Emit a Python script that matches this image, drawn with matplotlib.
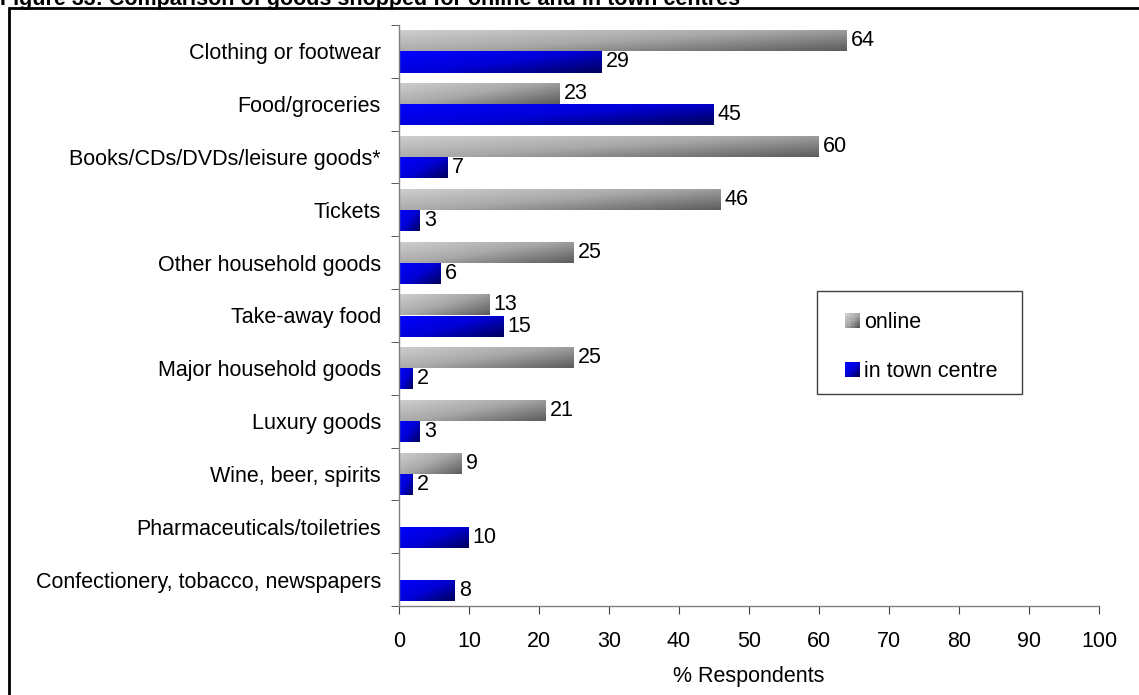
import numpy as np
import matplotlib
matplotlib.use("Agg")
import matplotlib.pyplot as plt
from matplotlib.colors import LinearSegmentedColormap
from matplotlib.patches import Rectangle
from matplotlib.legend_handler import HandlerBase

plt.rcParams["font.family"] = ["Liberation Sans", "DejaVu Sans"]

title = "Figure 33: Comparison of goods shopped for online and in town centres"
categories = [
    "Clothing or footwear",
    "Food/groceries",
    "Books/CDs/DVDs/leisure goods*",
    "Tickets",
    "Other household goods",
    "Take-away food",
    "Major household goods",
    "Luxury goods",
    "Wine, beer, spirits",
    "Pharmaceuticals/toiletries",
    "Confectionery, tobacco, newspapers",
]
online = [64, 23, 60, 46, 25, 13, 25, 21, 9, np.nan, np.nan]
town = [29, 45, 7, 3, 6, 15, 2, 3, 2, 10, 8]
series_names = ["online", "in town centre"]
x_ticks = list(range(0, 101, 10))

gray_cmap = LinearSegmentedColormap.from_list("g", ["#cfcfcf", "#a8a8a8", "#5c5c5c"])
blue_cmap = LinearSegmentedColormap.from_list("b", ["#0000ff", "#0000d8", "#00005c"])

FS = 15.5
W, H = 1139, 695
fig = plt.figure(figsize=(W / 100, H / 100), dpi=100)
ax = fig.add_axes([399 / W, 1 - 606 / H, 700 / W, 581 / H])


def diag_grad(n=64):
    xx, yy = np.meshgrid(np.linspace(0, 1, n), np.linspace(0, 1, n))
    return 0.55 * xx + 0.45 * yy  # row 0 = top of bar


def fill_gradient(patches, cmap):
    g = diag_grad()
    for p in patches:
        if not np.isfinite(p.get_width()) or p.get_width() <= 0:
            continue
        x0, y0 = p.get_x(), p.get_y()
        x1, y1 = x0 + p.get_width(), y0 + p.get_height()
        im = ax.imshow(g, cmap=cmap, vmin=0, vmax=1, extent=(x0, x1, y0, y1),
                       origin="upper", aspect="auto", interpolation="bilinear", zorder=2)
        im.set_clip_path(p)
        p.set_facecolor("none")


n = len(categories)
ypos = np.arange(n)[::-1].astype(float)
bh = 0.4
b1 = ax.barh(ypos + bh / 2, np.nan_to_num(online), height=bh, linewidth=0, zorder=1)
b2 = ax.barh(ypos - bh / 2, town, height=bh, linewidth=0, zorder=1)
fill_gradient(b1, gray_cmap)
fill_gradient(b2, blue_cmap)

# value labels
for y, v in zip(ypos, online):
    if np.isfinite(v):
        ax.text(v + 0.55, y + bh / 2, f"{v:g}", va="center", ha="left", fontsize=FS)
for y, v in zip(ypos, town):
    ax.text(v + 0.55, y - bh / 2, f"{v:g}", va="center", ha="left", fontsize=FS)

ax.set_xlim(0, 100)
ax.set_ylim(-0.5, n - 0.5)
ax.set_xticks(x_ticks)
ax.set_xticklabels([str(t) for t in x_ticks], fontsize=FS)
ax.tick_params(axis="x", direction="out", length=6, color="#404040", pad=12)
ax.set_xlabel("% Respondents", fontsize=FS, labelpad=10)

ax.set_yticks(ypos)
ax.set_yticklabels(categories, fontsize=FS)
ax.tick_params(axis="y", which="major", length=0, pad=13)
ax.set_yticks(np.arange(-0.5, n, 1.0), minor=True)
ax.tick_params(axis="y", which="minor", length=6, direction="out", color="#404040")

for s in ["top", "right"]:
    ax.spines[s].set_visible(False)
for s in ["left", "bottom"]:
    ax.spines[s].set_color("#808080")
    ax.spines[s].set_linewidth(1.0)


class GradHandler(HandlerBase):
    def __init__(self, cmap):
        super().__init__()
        self.cmap = cmap

    def create_artists(self, legend, orig_handle, xdescent, ydescent, width, height, fontsize, trans):
        arts = []
        k = 6
        side = min(width, height)
        x0, y0 = -xdescent, -ydescent + (height - side) / 2
        for i in range(k):
            for j in range(k):
                v = 0.5 * (i / (k - 1)) + 0.5 * ((k - 1 - j) / (k - 1))
                r = Rectangle((x0 + i * side / k, y0 + j * side / k), side / k, side / k,
                              facecolor=self.cmap(v), edgecolor="none", transform=trans)
                arts.append(r)
        return arts


h1, h2 = Rectangle((0, 0), 1, 1), Rectangle((0, 0), 1, 1)
leg = ax.legend([h1, h2], series_names, loc="center left",
                bbox_to_anchor=(0.609, 0.445), frameon=False, fontsize=FS,
                handlelength=0.7, handleheight=0.7, handletextpad=0.2,
                labelspacing=1.3,
                handler_map={h1: GradHandler(gray_cmap), h2: GradHandler(blue_cmap)})

# legend frame
fig.patches.append(Rectangle((817 / W, 1 - 394 / H), 205 / W, 103 / H, transform=fig.transFigure,
                             facecolor="none", edgecolor="#404040", linewidth=1.0))

# outer frame (clipped by figure edge)
fig.patches.append(Rectangle((8.5 / W, -0.05), 1.2, 1 - 7.5 / H + 0.05, transform=fig.transFigure,
                             facecolor="none", edgecolor="black", linewidth=2.0))

fig.text(0.0, 1 - 5 / H, title, fontsize=15.5, fontweight="bold", va="baseline", ha="left")

fig.savefig("out.png", dpi=100)
